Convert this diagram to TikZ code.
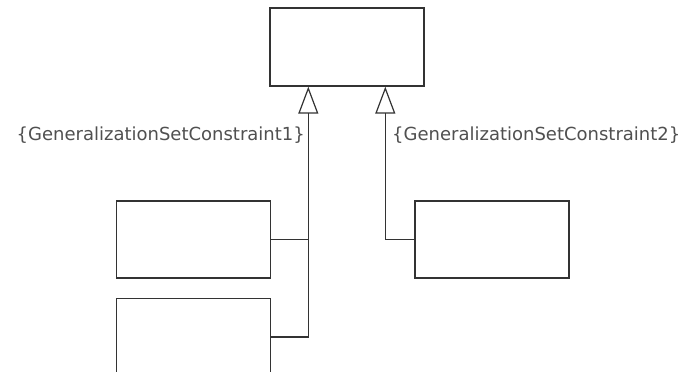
\documentclass[tikz,border=0pt]{standalone}
\usepackage{fontspec}
\setmainfont{DejaVu Sans}
\usetikzlibrary{arrows.meta,positioning}
\definecolor{umlline}{HTML}{333333}
\definecolor{umltext}{HTML}{505050}

\begin{document}
\begin{tikzpicture}[x=1pt, y=1pt,
    cls/.style={draw=umlline, line width=1.4pt, fill=white, minimum width=154pt,
                minimum height=77pt, inner sep=0pt},
    link/.style={draw=umlline, line width=1.4pt},
    gen/.style={link, -{Triangle[open, length=27pt, width=20pt, line width=1.2pt]}},
    lbl/.style={text=umltext, font=\fontsize{18}{22}\selectfont, inner sep=0pt}
  ]
    \clip (0,0) rectangle (686,372);
    \fill[white] (0,0) rectangle (686,372);
    % superclass and the three subclasses
    \node[cls, minimum height=78pt] (super) at (347,325) {};
    \node[cls] (sub1) at (193.5,132.5) {};
    \node[cls, below=19pt of sub1] (sub2) {};
    \node[cls, right=143pt of sub1] (sub3) {};
    % points where the generalizations meet the superclass
    \coordinate (hubL) at ([xshift=39pt]super.south west);
    \coordinate (hubR) at ([xshift=116pt]super.south west);
    % generalization set 1
    \draw[link] (sub1.east) -- (sub1.east -| hubL);
    \draw[gen] (sub2.east) -| (hubL);
    % generalization set 2
    \draw[gen] (sub3.west) -| (hubR);
    \node[lbl, anchor=east] (gs1) at (305,237) {\{GeneralizationSetConstraint1\}};
    \node[lbl, anchor=west] (gs2) at (392,237) {\{GeneralizationSetConstraint2\}};
\end{tikzpicture}
\end{document}
